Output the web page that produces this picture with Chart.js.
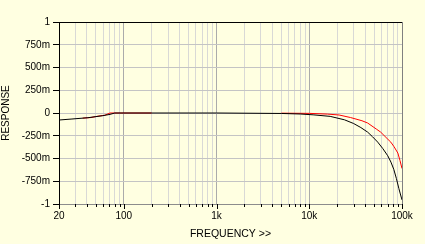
<!DOCTYPE html>
<html>
<head>
<meta charset="utf-8">
<script src="https://cdn.jsdelivr.net/npm/chart.js@4/dist/chart.umd.min.js"></script>
<style>
  html, body { margin: 0; padding: 0; background: #ffffe1; }
  #wrap { width: 425px; height: 244px; }
</style>
</head>
<body>
<div id="wrap"><canvas id="response-chart"></canvas></div>
<script>
// black trace
var blackFreq = [20, 27.6, 41, 49, 59, 71, 80, 200, 1000, 5000, 8000, 11000, 16800, 24000, 30000, 36000, 42600, 48000, 54700, 62000, 70200, 76000, 81600, 87000, 92500, 96000, 100000];
var blackResp = [-0.077, -0.066, -0.052, -0.041, -0.030, -0.015, 0, 0, 0, -0.005, -0.011, -0.02, -0.037, -0.075, -0.115, -0.16, -0.21, -0.26, -0.32, -0.39, -0.47, -0.54, -0.62, -0.72, -0.83, -0.89, -0.955];

// red trace (two pieces, gap in the middle)
var redFreq = [36, 44, 54, 62, 71, 200, 1000, 5000, 10000, 15700, 21000, 27900, 37000, 42600, 53500, 58900, 69000, 75700, 82000, 90200, 95000, 100000];
var redResp = [-0.056, -0.05, -0.033, -0.025, 0, 0, null, -0.002, -0.004, -0.012, -0.022, -0.05, -0.085, -0.11, -0.18, -0.21, -0.28, -0.32, -0.37, -0.44, -0.52, -0.61];

// axis ticks
var xTickValues = [20, 30, 40, 50, 60, 70, 80, 90, 100, 200, 300, 400, 500, 600, 700, 800, 900,
  1000, 2000, 3000, 4000, 5000, 6000, 7000, 8000, 9000,
  10000, 20000, 30000, 40000, 50000, 60000, 70000, 80000, 90000, 100000];
var xLabelValues = [20, 100, 1000, 10000, 100000];
var xLabelText = ['20', '100', '1k', '10k', '100k'];
var yTickValues = [-1, -0.75, -0.5, -0.25, 0, 0.25, 0.5, 0.75, 1];
var yTickText = ['-1', '-750m', '-500m', '-250m', '0', '250m', '500m', '750m', '1'];

function toPoints(xs, ys) {
  return xs.map(function (x, i) { return { x: x, y: ys[i] }; });
}
function isDecade(v) {
  return xLabelValues.indexOf(v) >= 0;
}

var tickFont = { family: 'Liberation Sans', size: 10 };

var frame = {
  id: 'frame',
  afterDatasetsDraw: function (chart) {
    var ctx = chart.ctx, a = chart.chartArea, xs = chart.scales.x;
    ctx.save();
    ctx.lineWidth = 1;
    ctx.strokeStyle = '#000';
    ctx.beginPath();
    ctx.moveTo(a.left, Math.round(a.top) + 0.5);
    ctx.lineTo(a.right + 1, Math.round(a.top) + 0.5);
    ctx.stroke();
    ctx.strokeStyle = '#808080';
    ctx.beginPath();
    ctx.moveTo(Math.round(a.right) + 0.5, a.top);
    ctx.lineTo(Math.round(a.right) + 0.5, a.bottom);
    ctx.stroke();
    // x tick marks, long on decades
    ctx.strokeStyle = '#000';
    xTickValues.forEach(function (v) {
      var px = Math.round(xs.getPixelForValue(v)) + 0.5;
      var len = isDecade(v) ? 5 : 3;
      ctx.beginPath();
      ctx.moveTo(px, Math.round(a.bottom));
      ctx.lineTo(px, Math.round(a.bottom) + len);
      ctx.stroke();
    });
    ctx.restore();
  }
};

new Chart(document.getElementById('response-chart'), {
  type: 'line',
  data: {
    datasets: [
      {
        label: 'black',
        data: toPoints(blackFreq, blackResp),
        borderColor: '#000000',
        borderWidth: 1,
        pointRadius: 0,
        tension: 0
      },
      {
        label: 'red',
        data: toPoints(redFreq, redResp),
        borderColor: '#ff0000',
        borderWidth: 1,
        pointRadius: 0,
        tension: 0,
        spanGaps: false
      }
    ]
  },
  options: {
    responsive: true,
    maintainAspectRatio: false,
    animation: false,
    events: [],
    layout: { padding: { top: 22, right: 23, left: 0, bottom: 0 } },
    plugins: {
      legend: { display: false },
      tooltip: { enabled: false }
    },
    scales: {
      x: {
        type: 'logarithmic',
        min: 20,
        max: 100000,
        afterBuildTicks: function (scale) {
          scale.ticks = xTickValues.map(function (v) { return { value: v }; });
        },
        afterFit: function (scale) { scale.height = 40; },
        ticks: {
          autoSkip: false,
          maxRotation: 0,
          padding: 6,
          color: '#000',
          font: tickFont,
          callback: function (v) {
            var i = xLabelValues.indexOf(v);
            return i >= 0 ? xLabelText[i] : '';
          }
        },
        grid: {
          drawTicks: false,
          color: function (c) {
            return c.tick && isDecade(c.tick.value) ? '#ababab' : '#d9d9d6';
          }
        },
        border: { color: '#8c8c8c' },
        title: {
          display: true,
          text: 'FREQUENCY >>',
          color: '#000',
          font: { family: 'Liberation Sans', size: 10.5 },
          padding: { top: 0, bottom: 4 }
        }
      },
      y: {
        min: -1,
        max: 1,
        afterBuildTicks: function (scale) {
          scale.ticks = yTickValues.map(function (v) { return { value: v }; });
        },
        afterFit: function (scale) { scale.width = 59; },
        ticks: {
          padding: 3,
          color: '#000',
          font: tickFont,
          callback: function (v) {
            var i = yTickValues.indexOf(v);
            return i >= 0 ? yTickText[i] : '';
          }
        },
        grid: {
          color: '#c4c4c4',
          tickLength: 6,
          tickColor: '#000'
        },
        border: { color: '#000' },
        title: {
          display: true,
          text: 'RESPONSE',
          color: '#000',
          font: { family: 'Liberation Sans', size: 10 },
          padding: { top: 0, bottom: 2 }
        }
      }
    }
  },
  plugins: [frame]
});
</script>
</body>
</html>
